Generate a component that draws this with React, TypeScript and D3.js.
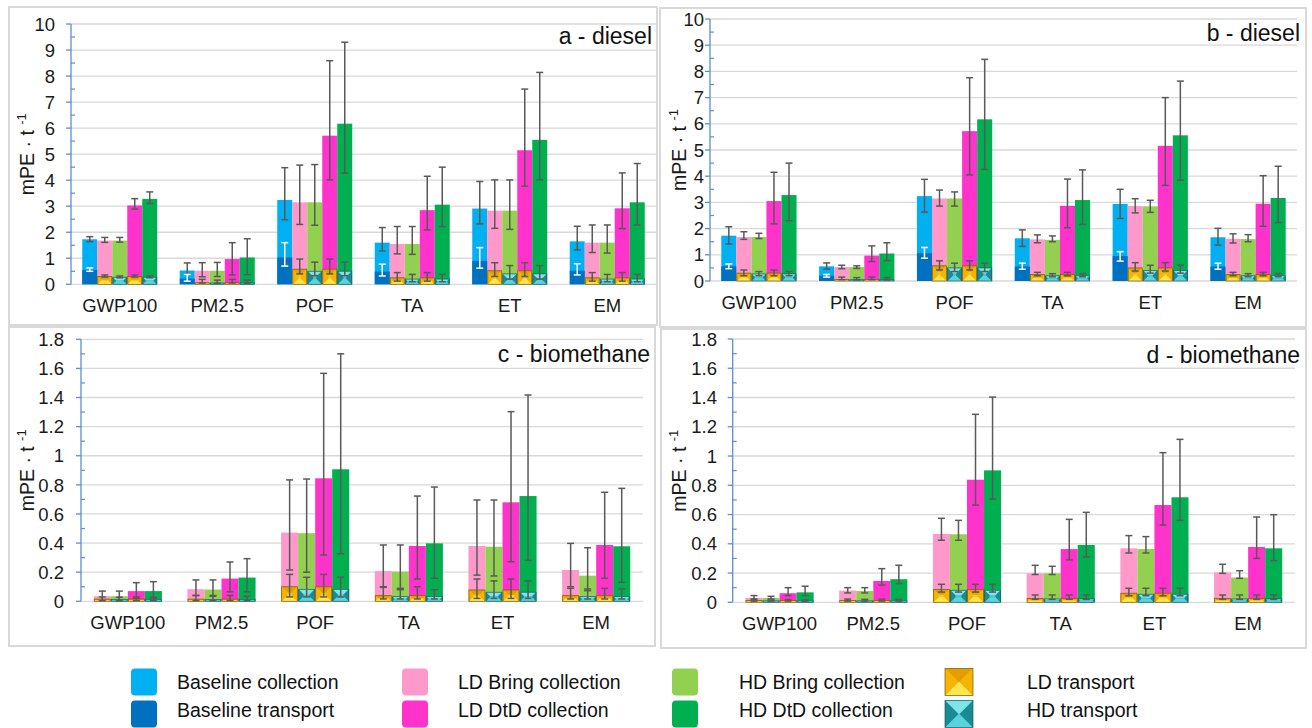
import React from "react";
import * as d3 from "d3";

type T = [number, number, number]; // value, lower, upper

const categories = ["GWP100", "PM2.5", "POF", "TA", "ET", "EM"];

// ---------- panel a (diesel) ----------
const aBaseColl: T[] = [[1.73, 1.64, 1.83], [0.53, 0.40, 0.82], [3.24, 2.48, 4.48], [1.6, 1.28, 2.18], [2.91, 2.32, 3.95], [1.65, 1.32, 2.23]];
const aBaseTrans: T[] = [[0.55, 0.5, 0.63], [0.22, 0.12, 0.38], [1.03, 0.7, 1.6], [0.49, 0.32, 0.77], [0.9, 0.62, 1.41], [0.52, 0.36, 0.79]];
const aLDBring: T[] = [[1.68, 1.61, 1.8], [0.52, 0.29, 0.83], [3.15, 2.3, 4.58], [1.55, 1.17, 2.22], [2.83, 2.15, 4.01], [1.6, 1.22, 2.28]];
const aHDBring: T[] = [[1.68, 1.62, 1.8], [0.52, 0.3, 0.84], [3.15, 2.27, 4.6], [1.55, 1.15, 2.22], [2.83, 2.11, 4.01], [1.6, 1.2, 2.28]];
const aLDDtD: T[] = [[3.03, 2.89, 3.29], [0.97, 0.36, 1.6], [5.71, 4.01, 8.59], [2.85, 2.09, 4.15], [5.15, 3.77, 7.5], [2.92, 2.14, 4.28]];
const aHDDtD: T[] = [[3.28, 3.1, 3.55], [1.03, 0.37, 1.75], [6.17, 4.27, 9.3], [3.06, 2.22, 4.5], [5.55, 4.01, 8.14], [3.15, 2.28, 4.64]];
const aLDTrans: T[] = [[0.3, 0.28, 0.36], [0.06, 0.05, 0.19], [0.58, 0.4, 0.97], [0.25, 0.12, 0.45], [0.52, 0.3, 0.83], [0.25, 0.12, 0.45]];
const aHDTrans: T[] = [[0.27, 0.25, 0.32], [0.05, 0.04, 0.16], [0.5, 0.33, 0.85], [0.2, 0.1, 0.38], [0.4, 0.2, 0.72], [0.2, 0.1, 0.38]];

// ---------- panel b (diesel) ----------
const bBaseColl: T[] = [[1.73, 1.41, 2.07], [0.56, 0.45, 0.69], [3.24, 2.63, 3.88], [1.63, 1.32, 1.95], [2.94, 2.39, 3.5], [1.67, 1.37, 2.01]];
const bBaseTrans: T[] = [[0.56, 0.47, 0.65], [0.2, 0.15, 0.25], [1.06, 0.87, 1.28], [0.55, 0.45, 0.68], [0.95, 0.76, 1.12], [0.55, 0.45, 0.68]];
const bLDBring: T[] = [[1.68, 1.59, 1.88], [0.53, 0.47, 0.6], [3.15, 2.86, 3.47], [1.59, 1.46, 1.76], [2.86, 2.6, 3.14], [1.61, 1.45, 1.8]];
const bHDBring: T[] = [[1.68, 1.62, 1.82], [0.53, 0.48, 0.58], [3.15, 2.86, 3.4], [1.57, 1.5, 1.72], [2.85, 2.62, 3.08], [1.6, 1.5, 1.77]];
const bLDDtD: T[] = [[3.05, 2.18, 4.15], [0.97, 0.74, 1.34], [5.72, 4.05, 7.76], [2.87, 2.03, 3.89], [5.16, 3.65, 7.0], [2.95, 2.09, 4.02]];
const bHDDtD: T[] = [[3.28, 2.3, 4.5], [1.05, 0.78, 1.46], [6.17, 4.26, 8.46], [3.09, 2.16, 4.24], [5.56, 3.85, 7.63], [3.17, 2.23, 4.38]];
const bLDTrans: T[] = [[0.3, 0.2, 0.42], [0.06, 0.05, 0.15], [0.58, 0.42, 0.77], [0.25, 0.2, 0.33], [0.5, 0.38, 0.7], [0.25, 0.2, 0.33]];
const bHDTrans: T[] = [[0.27, 0.2, 0.36], [0.05, 0.04, 0.13], [0.5, 0.36, 0.68], [0.2, 0.16, 0.28], [0.4, 0.3, 0.6], [0.2, 0.16, 0.28]];

// ---------- panel c (biomethane) ----------
const cLDBring: T[] = [[0.035, 0.005, 0.07], [0.083, 0.04, 0.147], [0.472, 0.215, 0.834], [0.208, 0.096, 0.387], [0.38, 0.18, 0.696], [0.215, 0.1, 0.398]];
const cHDBring: T[] = [[0.035, 0.005, 0.07], [0.081, 0.04, 0.147], [0.468, 0.2, 0.84], [0.204, 0.089, 0.387], [0.375, 0.174, 0.696], [0.176, 0.073, 0.368]];
const cLDDtD: T[] = [[0.07, 0.02, 0.128], [0.156, 0.065, 0.27], [0.845, 0.318, 1.566], [0.38, 0.153, 0.723], [0.68, 0.272, 1.303], [0.387, 0.158, 0.749]];
const cHDDtD: T[] = [[0.07, 0.02, 0.135], [0.163, 0.065, 0.293], [0.907, 0.327, 1.7], [0.398, 0.158, 0.785], [0.723, 0.282, 1.417], [0.378, 0.13, 0.776]];
const cLDTrans: T[] = [[0.015, 0.005, 0.03], [0.015, 0.005, 0.04], [0.1, 0.03, 0.185], [0.039, 0.016, 0.1], [0.078, 0.02, 0.153], [0.039, 0.016, 0.089]];
const cHDTrans: T[] = [[0.013, 0.005, 0.028], [0.012, 0.005, 0.035], [0.082, 0.03, 0.165], [0.032, 0.016, 0.08], [0.062, 0.02, 0.14], [0.032, 0.016, 0.085]];

// ---------- panel d (biomethane) ----------
const dLDBring: T[] = [[0.03, 0.023, 0.046], [0.08, 0.064, 0.1], [0.467, 0.424, 0.574], [0.198, 0.19, 0.253], [0.369, 0.337, 0.456], [0.205, 0.198, 0.26]];
const dHDBring: T[] = [[0.03, 0.023, 0.041], [0.077, 0.064, 0.1], [0.465, 0.424, 0.56], [0.198, 0.19, 0.246], [0.364, 0.337, 0.449], [0.169, 0.164, 0.216]];
const dLDDtD: T[] = [[0.062, 0.046, 0.1], [0.146, 0.118, 0.23], [0.838, 0.665, 1.285], [0.364, 0.29, 0.567], [0.665, 0.528, 1.023], [0.378, 0.3, 0.583]];
const dHDDtD: T[] = [[0.068, 0.046, 0.11], [0.158, 0.128, 0.253], [0.902, 0.706, 1.403], [0.392, 0.31, 0.615], [0.718, 0.56, 1.114], [0.369, 0.285, 0.599]];
const dLDTrans: T[] = [[0.012, 0.008, 0.018], [0.012, 0.008, 0.022], [0.088, 0.07, 0.123], [0.027, 0.02, 0.05], [0.062, 0.045, 0.096], [0.027, 0.02, 0.05]];
const dHDTrans: T[] = [[0.01, 0.008, 0.016], [0.01, 0.008, 0.02], [0.082, 0.07, 0.123], [0.023, 0.02, 0.05], [0.055, 0.045, 0.096], [0.023, 0.02, 0.05]];

const legendNames = [
  ["Baseline collection", "Baseline transport"],
  ["LD Bring collection", "LD DtD collection"],
  ["HD Bring collection", "HD DtD collection"],
  ["LD transport", "HD transport"],
];

const COL = {
  baseColl: "#00B0F0",
  baseTrans: "#0070C0",
  ldBring: "#FF99CC",
  ldDtD: "#FF33CC",
  hdBring: "#92D050",
  hdDtD: "#00B050",
};
const FONT = "'Liberation Sans', Arial, Helvetica, sans-serif";
const ERR = "#595959";

type TransKind = "flat" | "gold" | "teal";
interface Series { color: string; data: T[]; trans: { kind: TransKind; data: T[] } }

const panelsDef = [
  {
    title: "a - diesel", box: [9, 7, 657, 325], x0: 71, x1: 656, yTop: 24, y0: 284.3, max: 10, major: 1, minor: 0.5,
    labelRight: 55, titleRight: 652, titleBase: 44, axisTitleX: 27,
    series: [
      { color: COL.baseColl, data: aBaseColl, trans: { kind: "flat", data: aBaseTrans } },
      { color: COL.ldBring, data: aLDBring, trans: { kind: "gold", data: aLDTrans } },
      { color: COL.hdBring, data: aHDBring, trans: { kind: "teal", data: aHDTrans } },
      { color: COL.ldDtD, data: aLDDtD, trans: { kind: "gold", data: aLDTrans } },
      { color: COL.hdDtD, data: aHDDtD, trans: { kind: "teal", data: aHDTrans } },
    ] as Series[],
  },
  {
    title: "b - diesel", box: [660, 8, 1306, 327], x0: 710, x1: 1297, yTop: 19, y0: 281, max: 10, major: 1, minor: 0.5,
    labelRight: 704, titleRight: 1300, titleBase: 41, axisTitleX: 679,
    series: [
      { color: COL.baseColl, data: bBaseColl, trans: { kind: "flat", data: bBaseTrans } },
      { color: COL.ldBring, data: bLDBring, trans: { kind: "gold", data: bLDTrans } },
      { color: COL.hdBring, data: bHDBring, trans: { kind: "teal", data: bHDTrans } },
      { color: COL.ldDtD, data: bLDDtD, trans: { kind: "gold", data: bLDTrans } },
      { color: COL.hdDtD, data: bHDDtD, trans: { kind: "teal", data: bHDTrans } },
    ] as Series[],
  },
  {
    title: "c - biomethane", box: [9, 327, 655, 646], x0: 81, x1: 643, yTop: 339.3, y0: 601.3, max: 1.8, major: 0.2, minor: 0.1,
    labelRight: 64, titleRight: 650, titleBase: 362, axisTitleX: 27,
    series: [
      { color: COL.ldBring, data: cLDBring, trans: { kind: "gold", data: cLDTrans } },
      { color: COL.hdBring, data: cHDBring, trans: { kind: "teal", data: cHDTrans } },
      { color: COL.ldDtD, data: cLDDtD, trans: { kind: "gold", data: cLDTrans } },
      { color: COL.hdDtD, data: cHDDtD, trans: { kind: "teal", data: cHDTrans } },
    ] as Series[],
  },
  {
    title: "d - biomethane", box: [661, 329, 1306, 648], x0: 732.7, x1: 1295, yTop: 339, y0: 602.3, max: 1.8, major: 0.2, minor: 0.1,
    labelRight: 717, titleRight: 1300, titleBase: 363, axisTitleX: 679,
    series: [
      { color: COL.ldBring, data: dLDBring, trans: { kind: "gold", data: dLDTrans } },
      { color: COL.hdBring, data: dHDBring, trans: { kind: "teal", data: dHDTrans } },
      { color: COL.ldDtD, data: dLDDtD, trans: { kind: "gold", data: dLDTrans } },
      { color: COL.hdDtD, data: dHDDtD, trans: { kind: "teal", data: dHDTrans } },
    ] as Series[],
  },
];

const BEVEL = {
  gold: { top: "#E39E00", bottom: "#FFE64D", side: "#F4B400", center: "#FFC61A", stroke: "#6b5200" },
  teal: { top: "#7FE3EA", bottom: "#5AD4DC", side: "#1C8A94", center: "#3CC6CF", stroke: "#0c5258" },
};

function Bevel({ x, y, w, h, kind, k = 0.42 }: { x: number; y: number; w: number; h: number; kind: "gold" | "teal"; k?: number }) {
  if (h <= 0) return null;
  const c = BEVEL[kind];
  const d = Math.min(w, h) * k;
  const p = (pts: number[][]) => pts.map((q) => q.join(",")).join(" ");
  return (
    <g>
      <rect x={x} y={y} width={w} height={h} fill={c.center} />
      <polygon points={p([[x, y], [x + w, y], [x + w - d, y + d], [x + d, y + d]])} fill={c.top} />
      <polygon points={p([[x, y + h], [x + w, y + h], [x + w - d, y + h - d], [x + d, y + h - d]])} fill={c.bottom} />
      <polygon points={p([[x, y], [x + d, y + d], [x + d, y + h - d], [x, y + h]])} fill={c.side} />
      <polygon points={p([[x + w, y], [x + w - d, y + d], [x + w - d, y + h - d], [x + w, y + h]])} fill={c.side} />
      <rect x={x} y={y} width={w} height={h} fill="none" stroke={c.stroke} strokeWidth={0.8} strokeOpacity={0.8} />
    </g>
  );
}

function ErrBar({ cx, y1, y2, color }: { cx: number; y1: number; y2: number; color: string }) {
  const cap = 3.5;
  return (
    <g stroke={color} strokeWidth={1.5}>
      <line x1={cx} x2={cx} y1={y1} y2={y2} />
      <line x1={cx - cap} x2={cx + cap} y1={y1} y2={y1} />
      <line x1={cx - cap} x2={cx + cap} y1={y2} y2={y2} />
    </g>
  );
}

function fmt(v: number) {
  return String(+v.toFixed(1));
}

function Panel({ def }: { def: (typeof panelsDef)[number] }) {
  const { box, x0, x1, yTop, y0, max, major, minor } = def;
  const y = d3.scaleLinear().domain([0, max]).range([y0, yTop]);
  const x = d3.scaleBand<string>().domain(categories).range([x0, x1]);
  const n = def.series.length;
  const bw = x.bandwidth() / (n + 1.5);
  const majors = d3.range(0, Math.round(max / major) + 1).map((i) => +(i * major).toFixed(3));
  const minors = d3.range(0, Math.round(max / minor) + 1).map((i) => +(i * minor).toFixed(3)).filter((v) => !majors.includes(v));
  const midY = (yTop + y0) / 2;

  return (
    <g>
      <rect x={box[0]} y={box[1]} width={box[2] - box[0]} height={box[3] - box[1]} fill="#fff" stroke="#d9d9d9" strokeWidth={2} />
      {majors.map((v) => (
        <line key={"g" + v} x1={x0} x2={x1} y1={y(v)} y2={y(v)} stroke="#d9d9d9" strokeWidth={1.3} />
      ))}
      {categories.map((cat, ci) => {
        const cx = (x(cat) as number) + x.bandwidth() / 2;
        const gx = cx - (n * bw) / 2;
        return (
          <g key={cat}>
            {def.series.map((s, si) => {
              const v = s.data[ci][0];
              return <rect key={"b" + si} x={gx + si * bw} y={y(v)} width={bw} height={y(0) - y(v)} fill={s.color} />;
            })}
            {def.series.map((s, si) => {
              const [, lo, hi] = s.data[ci];
              return <ErrBar key={"e" + si} cx={gx + (si + 0.5) * bw} y1={y(hi)} y2={y(lo)} color={ERR} />;
            })}
            {def.series.map((s, si) => {
              const v = s.trans.data[ci][0];
              const bx = gx + si * bw;
              if (s.trans.kind === "flat")
                return <rect key={"t" + si} x={bx} y={y(v)} width={bw} height={y(0) - y(v)} fill={COL.baseTrans} />;
              return <Bevel key={"t" + si} x={bx + 0.5} y={y(v)} w={bw - 1} h={y(0) - y(v)} kind={s.trans.kind} />;
            })}
            {def.series.map((s, si) => {
              const [, lo, hi] = s.trans.data[ci];
              return (
                <ErrBar key={"te" + si} cx={gx + (si + 0.5) * bw} y1={y(hi)} y2={y(lo)} color={s.trans.kind === "flat" ? "#ffffff" : ERR} />
              );
            })}
            <text x={cx} y={y0 + 28} textAnchor="middle" fontSize={18.5} fontFamily={FONT} fill="#1a1a1a">
              {cat}
            </text>
          </g>
        );
      })}
      {/* y axis */}
      <line x1={x0} x2={x0} y1={yTop} y2={y0} stroke="#5B8ED6" strokeWidth={1.3} />
      {majors.map((v) => (
        <line key={"mt" + v} x1={x0 - 5} x2={x0} y1={y(v)} y2={y(v)} stroke="#5B8ED6" strokeWidth={1.3} />
      ))}
      {minors.map((v) => (
        <line key={"nt" + v} x1={x0} x2={x0 + 4} y1={y(v)} y2={y(v)} stroke="#5B8ED6" strokeWidth={1.2} />
      ))}
      {majors.map((v) => (
        <text key={"l" + v} x={def.labelRight} y={y(v)} dy="0.36em" textAnchor="end" fontSize={18.5} fontFamily={FONT} fill="#1a1a1a">
          {fmt(v)}
        </text>
      ))}
      <text
        transform={`translate(${def.axisTitleX},${midY}) rotate(-90)`}
        textAnchor="middle"
        dy="0.35em"
        fontSize={19.5}
        fontFamily={FONT}
        fill="#1a1a1a"
      >
        mPE · t <tspan fontSize={13} dy={-8}>-1</tspan>
      </text>
      <text x={def.titleRight} y={def.titleBase} textAnchor="end" fontSize={23} fontFamily={FONT} fill="#111">
        {def.title}
      </text>
    </g>
  );
}

const legendCols = [
  { sx: 131, tx: 177, kinds: [COL.baseColl, COL.baseTrans] },
  { sx: 402, tx: 458, kinds: [COL.ldBring, COL.ldDtD] },
  { sx: 672, tx: 739, kinds: [COL.hdBring, COL.hdDtD] },
  { sx: 945, tx: 1027, kinds: ["gold", "teal"] },
];

function Legend() {
  const rows = [668.5, 700.5];
  return (
    <g>
      {legendCols.map((c, ci) =>
        c.kinds.map((k, ri) => (
          <g key={ci + "-" + ri}>
            {k === "gold" || k === "teal" ? (
              <Bevel x={c.sx} y={rows[ri]} w={28} h={27} kind={k as "gold" | "teal"} k={0.5} />
            ) : (
              <rect x={c.sx} y={rows[ri]} width={26} height={27} rx={4} fill={k} />
            )}
            <text x={c.tx} y={ri === 0 ? 688.5 : 716.5} fontSize={19.5} fontFamily={FONT} fill="#111">
              {legendNames[ci][ri]}
            </text>
          </g>
        ))
      )}
    </g>
  );
}

export default function App() {
  return (
    <svg
      width={1312}
      height={728}
      style={{ position: "absolute", left: 0, top: 0, display: "block", background: "#fff" }}
      xmlns="http://www.w3.org/2000/svg"
    >
      <rect x={0} y={0} width={1312} height={728} fill="#fff" />
      {panelsDef.map((p) => (
        <Panel key={p.title} def={p} />
      ))}
      <Legend />
    </svg>
  );
}
